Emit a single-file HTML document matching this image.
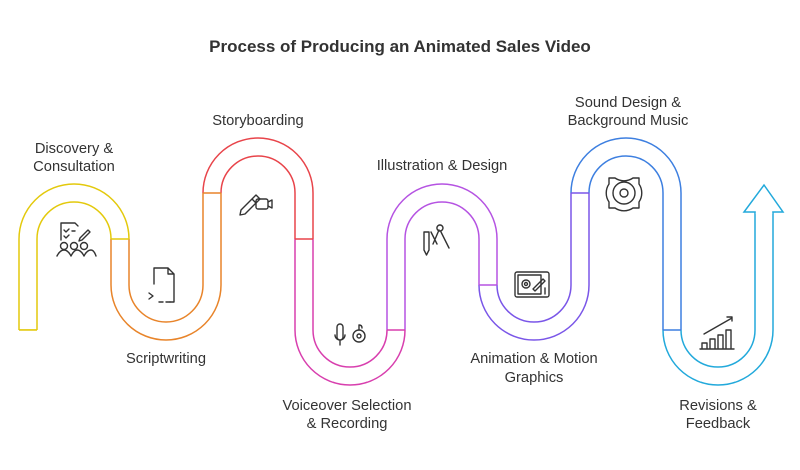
<!DOCTYPE html>
<html><head><meta charset="utf-8"><style>
html,body{margin:0;padding:0;background:#fff;}
svg{display:block;font-family:"Liberation Sans",sans-serif;}
.t{font-size:14.7px;fill:#333;text-anchor:middle;}
.i{fill:none;stroke:#333;stroke-width:1.4;stroke-linecap:round;stroke-linejoin:round;}
</style></head><body>
<svg width="800" height="470" viewBox="0 0 800 470">
<rect width="800" height="470" fill="#fff"/>
<text x="400" y="52" text-anchor="middle" font-size="17" font-weight="bold" fill="#333">Process of Producing an Animated Sales Video</text>
<g fill="none" stroke-width="19.5">
<path d="M28 330 L28 239 A46 46 0 0 1 120 239" stroke="#e3c90c"/>
<path d="M120 239 L120 285 A46 46 0 0 0 212 285 L212 193" stroke="#e8842a"/>
<path d="M212 193 A46 46 0 0 1 304 193 L304 239" stroke="#e8444a"/>
<path d="M304 239 L304 330 A46 46 0 0 0 396 330" stroke="#d83fae"/>
<path d="M396 330 L396 239 A46 46 0 0 1 488 239 L488 285" stroke="#b553e2"/>
<path d="M488 285 A46 46 0 0 0 580 285 L580 193" stroke="#7a56e8"/>
<path d="M580 193 A46 46 0 0 1 672 193 L672 330" stroke="#3d7fe0"/>
<path d="M672 330 A46 46 0 0 0 764 330 L764 212" stroke="#22a9db"/>
</g>
<g fill="none" stroke="#fff" stroke-width="16.5">
<path d="M28 329.3 L28 239 A46 46 0 0 1 120 239 L120 285 A46 46 0 0 0 212 285 L212 193 A46 46 0 0 1 304 193 L304 330 A46 46 0 0 0 396 330 L396 239 A46 46 0 0 1 488 239 L488 285 A46 46 0 0 0 580 285 L580 193 A46 46 0 0 1 672 193 L672 330 A46 46 0 0 0 764 330 L764 211"/>
</g>
<g stroke-width="1.5">
<line x1="19" y1="330" x2="37" y2="330" stroke="#e3c90c"/>
<line x1="111" y1="239" x2="129" y2="239" stroke="#e3c90c"/>
<line x1="203" y1="193" x2="221" y2="193" stroke="#e8842a"/>
<line x1="295" y1="239" x2="313" y2="239" stroke="#e8444a"/>
<line x1="387" y1="330" x2="405" y2="330" stroke="#d83fae"/>
<line x1="479" y1="285" x2="497" y2="285" stroke="#b553e2"/>
<line x1="571" y1="193" x2="589" y2="193" stroke="#7a56e8"/>
<line x1="663" y1="330" x2="681" y2="330" stroke="#3d7fe0"/>
</g>
<polygon points="755,212 744,212 764,185 783,212 773,212" fill="#fff" stroke="#22a9db" stroke-width="1.5" stroke-linejoin="miter"/>
<rect x="755.8" y="210" width="16.4" height="4" fill="#fff"/>
<text class="t" x="74" y="153">Discovery &amp;</text>
<text class="t" x="74" y="171">Consultation</text>
<text class="t" x="258" y="125">Storyboarding</text>
<text class="t" x="166" y="363">Scriptwriting</text>
<text class="t" x="442" y="170">Illustration &amp; Design</text>
<text class="t" x="347" y="410">Voiceover Selection</text>
<text class="t" x="347" y="428">&amp; Recording</text>
<text class="t" x="534" y="363">Animation &amp; Motion</text>
<text class="t" x="534" y="382">Graphics</text>
<text class="t" x="628" y="107">Sound Design &amp;</text>
<text class="t" x="628" y="125">Background Music</text>
<text class="t" x="718" y="410">Revisions &amp;</text>
<text class="t" x="718" y="428">Feedback</text>
<g class="i">
<path d="M61 240 V223 H75 L78 226"/><path d="M64 230 l2 2 3-3 M64 236 l2 2 3-3 M72 231 h3"/>
<path d="M80 238 l8-8 2 2 -8 8 -3 1z"/>
<circle cx="64" cy="246" r="3.5"/><circle cx="74" cy="246" r="3.5"/><circle cx="84" cy="246" r="3.5"/>
<path d="M57 256 q3-6 7-6 q4 0 7 6 q3-6 6-6 q4 0 7 6 q3-6 7-6 q3 0 5 6"/>
<path d="M154 284 V268 H168 L174 274 V302 H170 M174 274 H168 V268"/><path d="M149 293 l4 3 -4 3 M159 302 h4 M166 302 h4"/>
<path d="M241 210 l15-15 4 4 -15 15 -5 1z M252 199 l4 4"/><rect x="256" y="199" width="12" height="10" rx="2"/><path d="M268 202 l4-2 v8 l-4-2"/>
<path d="M337 332 v-5 a3 3 0 0 1 6 0 v10 a3 3 0 0 1 -6 0z M335 335 a5 5 0 0 0 10 0 M340 340 v5"/>
<circle cx="359" cy="336" r="6"/><circle cx="359" cy="336" r="2"/><path d="M359 330 v-5 q3 0 3 3"/>
<path d="M424 250 v-18 h5 v18 l-2.5 5z M431 232 l6 12 M439 230 l-6 14 M441 232 l8 16 M440 225 a3 3 0 1 1 -0.1 0"/>
<rect x="515" y="272" width="34" height="25" rx="2"/><rect x="518" y="275" width="23" height="19"/><circle cx="526" cy="284" r="4"/><circle cx="526" cy="284" r="1.5"/><path d="M533 289 l10-10 2 2 -10 10z M545 288 v6"/>
<path d="M609 178 h6 a16 16 0 0 0 18 0 h0 M609 178 v6 a16 16 0 0 0 0 18 v6 h6 a16 16 0 0 0 18 0 h6 v-6 a16 16 0 0 0 0 -18 v-6 h-6"/><circle cx="624" cy="193" r="11"/><circle cx="624" cy="193" r="4"/>
<path d="M700 349 h34 M702 348 v-5 h5 v5 M710 348 v-9 h5 v9 M718 348 v-13 h5 v13 M726 348 v-18 h5 v18 M704 334 l28-16 M727 317 h5 v4"/>
</g>
</svg>
</body></html>
